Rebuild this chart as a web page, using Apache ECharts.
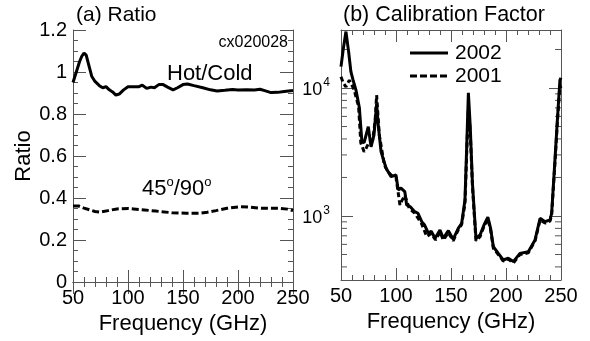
<!DOCTYPE html>
<html><head><meta charset="utf-8">
<script src="https://cdn.jsdelivr.net/npm/echarts@6/dist/echarts.min.js"></script>
<style>html,body{margin:0;padding:0;background:#fff}#c{width:590px;height:341px}</style>
</head><body><div id="c"></div>
<script>
// ---- Data ----
const freqTicks = [50, 100, 150, 200, 250];
const ratioTicks = [0, 0.2, 0.4, 0.6, 0.8, 1.0, 1.2];
const logMajorTicks = [1000, 10000];
const logMinorTicks = [400, 500, 600, 700, 800, 900, 2000, 3000, 4000, 5000, 6000, 7000, 8000, 9000, 20000];
const legendNames = ['2002', '2001'];

const hotColdFreq = [50, 53, 56, 58, 60, 62, 64, 67, 70, 74, 77, 80, 83, 86, 89, 92, 96, 100, 105, 110, 113, 117, 121, 124, 128, 132, 136, 141, 145, 150, 154, 160, 168, 175, 181, 188, 195, 200, 208, 215, 220, 225, 230, 236, 242, 250];
const hotColdRatio = [0.95, 1.00, 1.05, 1.075, 1.09, 1.08, 1.04, 0.98, 0.955, 0.935, 0.925, 0.93, 0.915, 0.905, 0.89, 0.895, 0.915, 0.93, 0.93, 0.93, 0.937, 0.922, 0.928, 0.925, 0.94, 0.94, 0.928, 0.915, 0.925, 0.94, 0.943, 0.935, 0.925, 0.915, 0.91, 0.913, 0.917, 0.914, 0.915, 0.914, 0.918, 0.91, 0.902, 0.903, 0.907, 0.912];

const angleFreq = [50, 55, 60, 66, 70, 75, 82, 90, 100, 105, 115, 125, 130, 140, 153, 165, 172, 180, 190, 202, 210, 220, 230, 238, 245, 250];
const angleRatio = [0.362, 0.362, 0.352, 0.342, 0.336, 0.333, 0.34, 0.348, 0.35, 0.348, 0.343, 0.338, 0.335, 0.33, 0.327, 0.328, 0.332, 0.34, 0.351, 0.359, 0.357, 0.351, 0.351, 0.351, 0.347, 0.34];

const cal2002Freq = [50, 52, 54.5, 57, 59, 61, 63.6, 66.7, 69, 71, 72.7, 74.8, 77.3, 80, 82.4, 84, 86.4, 91, 95.5, 100, 102, 104.5, 108, 109.7, 113, 117, 120, 123.4, 126, 129.4, 132, 135.5, 140, 143, 147.6, 152, 156.6, 159.7, 162.7, 164.5, 165.8, 167.5, 169.5, 172.7, 176.4, 180, 183.5, 186, 188.5, 193, 197.5, 202, 206.7, 212.7, 220.3, 226.4, 231, 235.5, 240, 241.5, 244.5, 246.7, 249, 250];
const cal2002 = [14700, 20000, 27600, 19000, 13400, 11500, 9640, 7000, 3800, 3750, 3720, 4980, 3470, 4300, 7500, 5000, 3180, 2360, 2030, 2090, 1600, 1650, 1550, 1220, 1180, 1080, 1050, 903, 850, 733, 760, 670, 777, 670, 768, 658, 800, 877, 1333, 4000, 9180, 5000, 1800, 670, 710, 850, 980, 800, 575, 510, 453, 467, 440, 510, 526, 650, 960, 903, 930, 1050, 2740, 5620, 11500, 12000];

const cal2001Freq = [50, 52, 54.5, 57.6, 60, 62, 66, 68, 71, 73, 75.7, 78.8, 81, 82.4, 84.8, 89.4, 93, 97, 100, 103.6, 105, 108, 112, 117, 123, 128, 132, 136, 140, 143, 147.6, 152, 156.6, 159.7, 162.7, 164.5, 165.8, 167.5, 169.5, 172.7, 176.4, 180, 183.5, 186, 188.5, 193, 197.5, 202, 206.7, 212.7, 220.3, 226.4, 231, 235.5, 240, 241.5, 244.5, 246.7, 249, 250];
const cal2001 = [12250, 11000, 10200, 11500, 10500, 9640, 7150, 3720, 3180, 3400, 3800, 3920, 5500, 8800, 4300, 2500, 2200, 2030, 2000, 1220, 1300, 1450, 1150, 1050, 880, 690, 730, 650, 750, 650, 740, 640, 780, 860, 1250, 3500, 7000, 4500, 1700, 640, 690, 830, 950, 780, 560, 500, 445, 460, 430, 500, 515, 640, 930, 880, 910, 1020, 2600, 5400, 10500, 10000];

// ---- Chart ----
const FONT = 'Liberation Sans, Arial, Helvetica, sans-serif';
const FRAME = '#555';
const zip = (a, b) => a.map((v, i) => [v, b[i]]);

function xAx(grid, pos, showLabel, name) {
  return {
    type: 'value', gridIndex: grid, position: pos, min: freqTicks[0], max: freqTicks[freqTicks.length - 1],
    interval: freqTicks[1] - freqTicks[0],
    axisLine: { show: true, lineStyle: { color: FRAME, width: 1 } },
    axisTick: { show: true, inside: true, length: 12, lineStyle: { color: FRAME } },
    minorTick: { show: true, splitNumber: 5, length: 5, lineStyle: { color: FRAME } },
    axisLabel: { show: showLabel, margin: 6, fontSize: 20, color: '#000', fontFamily: FONT },
    splitLine: { show: false }, minorSplitLine: { show: false },
    name: name || '', nameLocation: 'middle', nameGap: 19,
    nameTextStyle: { fontSize: 22, color: '#000', fontFamily: FONT }
  };
}
function yRatio(pos, showLabel) {
  return {
    type: 'value', gridIndex: 0, position: pos, min: ratioTicks[0], max: ratioTicks[ratioTicks.length - 1],
    interval: ratioTicks[1] - ratioTicks[0],
    axisLine: { show: true, lineStyle: { color: FRAME, width: 1 } },
    axisTick: { show: true, inside: true, length: 13, lineStyle: { color: FRAME } },
    minorTick: { show: true, splitNumber: 4, length: 5, lineStyle: { color: FRAME } },
    axisLabel: { show: showLabel, margin: 6, fontSize: 20, color: '#000', fontFamily: FONT,
      formatter: v => (Math.round(v * 10) / 10).toString() },
    splitLine: { show: false },
    name: showLabel ? 'Ratio' : '', nameLocation: 'middle', nameGap: 35, nameRotate: 90,
    nameTextStyle: { fontSize: 22, color: '#000', fontFamily: FONT }
  };
}
function yLog(pos, showLabel) {
  return {
    type: 'log', logBase: 10, gridIndex: 1, position: pos, min: 316, max: 28400,
    axisLine: { show: true, lineStyle: { color: FRAME, width: 1 } },
    axisTick: { show: true, inside: true, length: 12, lineStyle: { color: FRAME } },
    axisLabel: { show: showLabel, margin: 11, fontSize: 18, color: '#000', fontFamily: FONT,
      showMinLabel: false, showMaxLabel: false,
      formatter: v => logMajorTicks.some(t => Math.abs(t - v) / t < 1e-6) ? '{b|10}{s|' + Math.round(Math.log10(v)) + '}' : '',
      rich: { b: { fontSize: 18, fontFamily: FONT, color: '#000', lineHeight: 22, verticalAlign: 'bottom' },
              s: { fontSize: 12, fontFamily: FONT, color: '#000', lineHeight: 22, verticalAlign: 'top', padding: [0, 0, 0, 1] } } },
    splitLine: { show: false }
  };
}

const chart = echarts.init(document.getElementById('c'), null, { renderer: 'canvas' });
chart.setOption({
  animation: false,
  backgroundColor: '#fff',
  grid: [
    { left: 73, right: 590 - 293, top: 30, bottom: 341 - 282, containLabel: false },
    { left: 341, right: 590 - 561, top: 30, bottom: 341 - 280, containLabel: false }
  ],
  xAxis: [
    xAx(0, 'bottom', true, 'Frequency (GHz)'),
    xAx(0, 'top', false),
    xAx(1, 'bottom', true, 'Frequency (GHz)'),
    xAx(1, 'top', false)
  ],
  yAxis: [yRatio('left', true), yRatio('right', false), yLog('left', true), yLog('right', false)],
  graphic: [
    { type: 'text', x: 76, y: 15, style: { text: '(a) Ratio', fontSize: 21, fontFamily: FONT, fill: '#000', verticalAlign: 'middle' } },
    { type: 'text', x: 343, y: 15, style: { text: '(b) Calibration Factor', fontSize: 21.5, fontFamily: FONT, fill: '#000', verticalAlign: 'middle' } },
    { type: 'text', x: 288, y: 43, style: { text: 'cx020028', fontSize: 16, fontFamily: FONT, fill: '#000', align: 'right', verticalAlign: 'middle' } },
    { type: 'text', x: 167, y: 74, style: { text: 'Hot/Cold', fontSize: 22, fontFamily: FONT, fill: '#000', verticalAlign: 'middle' } },
    { type: 'text', x: 142, y: 188, style: { text: '{b|45}{s|o}{b|/90}{s|o}', fill: '#000', verticalAlign: 'middle',
      rich: { b: { fontSize: 22, fontFamily: FONT, fill: '#000', lineHeight: 24, verticalAlign: 'bottom' },
              s: { fontSize: 13, fontFamily: FONT, fill: '#000', lineHeight: 24, verticalAlign: 'top' } } } },
    // legend (b)
    { type: 'line', shape: { x1: 410, y1: 53, x2: 448, y2: 53 }, style: { stroke: '#000', lineWidth: 3 } },
    { type: 'text', x: 455, y: 53, style: { text: legendNames[0], fontSize: 21, fontFamily: FONT, fill: '#000', verticalAlign: 'middle' } },
    { type: 'line', shape: { x1: 410, y1: 76, x2: 448, y2: 76 }, style: { stroke: '#000', lineWidth: 3, lineDash: [7, 3] } },
    { type: 'text', x: 455, y: 76, style: { text: legendNames[1], fontSize: 21, fontFamily: FONT, fill: '#000', verticalAlign: 'middle' } }
  ],
  series: [
    { name: 'Hot/Cold', type: 'line', xAxisIndex: 0, yAxisIndex: 0, data: zip(hotColdFreq, hotColdRatio),
      symbol: 'none', lineStyle: { color: '#000', width: 3 } },
    { name: '45/90', type: 'line', xAxisIndex: 0, yAxisIndex: 0, data: zip(angleFreq, angleRatio),
      symbol: 'none', lineStyle: { color: '#000', width: 3, type: [7, 3] } },
    { name: legendNames[0], type: 'line', xAxisIndex: 2, yAxisIndex: 2, data: zip(cal2002Freq, cal2002),
      symbol: 'none', itemStyle: { color: '#000' }, lineStyle: { color: '#000', width: 3 } },
    { name: legendNames[1], type: 'line', xAxisIndex: 2, yAxisIndex: 2, data: zip(cal2001Freq, cal2001),
      symbol: 'none', itemStyle: { color: '#000' }, lineStyle: { color: '#000', width: 3, type: [5, 3] } },
    { name: 'logMinor', type: 'custom', xAxisIndex: 2, yAxisIndex: 2, silent: true, clip: false,
      data: logMinorTicks.map(v => [freqTicks[0], v]),
      renderItem: (params, api) => {
        const v = api.value(1);
        const l = api.coord([freqTicks[0], v]);
        const r = api.coord([freqTicks[freqTicks.length - 1], v]);
        return { type: 'group', children: [
          { type: 'line', shape: { x1: l[0], y1: l[1], x2: l[0] + 6, y2: l[1] }, style: { stroke: FRAME, lineWidth: 1 } },
          { type: 'line', shape: { x1: r[0] - 6, y1: r[1], x2: r[0], y2: r[1] }, style: { stroke: FRAME, lineWidth: 1 } }
        ] };
      } }
  ]
});
</script>
</body></html>
